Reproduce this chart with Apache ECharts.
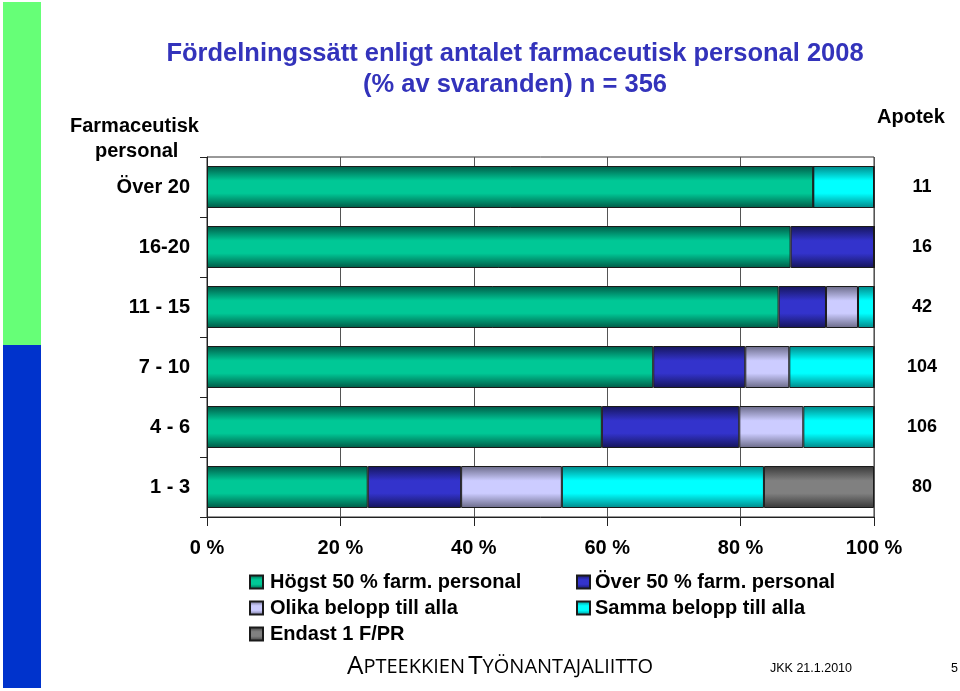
<!DOCTYPE html>
<html>
<head>
<meta charset="utf-8">
<script src="https://cdn.jsdelivr.net/npm/echarts@6/dist/echarts.min.js"></script>
<style>html,body{margin:0;padding:0;background:#fff}#c{width:960px;height:691px}</style>
</head>
<body>
<div id="c"></div>
<script>
const categories = ['Över 20', '16-20', '11 - 15', '7 - 10', '4 - 6', '1 - 3'];
const apotek = ['11', '16', '42', '104', '106', '80'];
const seriesNames = ['Högst 50 % farm. personal', 'Över 50 % farm. personal', 'Olika belopp till alla', 'Samma belopp till alla', 'Endast 1 F/PR'];
const hogst50 = [90.9, 87.5, 85.7, 66.9, 59.2, 24.1];
const over50 = [0, 12.5, 7.1, 13.8, 20.6, 14.0];
const olika = [0, 0, 4.8, 6.6, 9.6, 15.1];
const samma = [9.1, 0, 2.4, 12.7, 10.6, 30.3];
const endast = [0, 0, 0, 0, 0, 16.5];
const xTicks = ['0 %', '20 %', '40 %', '60 %', '80 %', '100 %'];

const palette = [
  ['#00c896', '#005a46'],
  ['#3333cc', '#15155a'],
  ['#ccccff', '#6a6a88'],
  ['#00ffff', '#008888'],
  ['#808080', '#383838']
];
function grad(i) {
  const [base, dark] = palette[i];
  return new echarts.graphic.LinearGradient(0, 0, 0, 1, [
    {offset: 0, color: dark}, {offset: 0.35, color: base},
    {offset: 0.65, color: base}, {offset: 1, color: dark}
  ]);
}
const values = [hogst50, over50, olika, samma, endast];
const font = 'Liberation Sans, Arial, sans-serif';

const chart = echarts.init(document.getElementById('c'));
chart.setOption({
  animation: false,
  textStyle: {fontFamily: font},
  title: {
    text: 'Fördelningssätt enligt antalet farmaceutisk personal 2008\n(% av svaranden) n = 356',
    left: 510, top: 33, textAlign: 'center',
    textStyle: {color: '#3333bb', fontSize: 25.5, fontWeight: 'bold', fontFamily: font, lineHeight: 31}
  },
  grid: {left: 207, right: 86, top: 157, bottom: 174, show: true, borderColor: '#333', borderWidth: 1, containLabel: false},
  xAxis: {
    type: 'value', min: 0, max: 100, interval: 20,
    axisLine: {show: true, lineStyle: {color: '#222'}},
    axisTick: {show: true, length: 9, lineStyle: {color: '#222'}},
    splitLine: {show: true, lineStyle: {color: '#555', width: 1}},
    axisLabel: {
      margin: 21, color: '#000', fontSize: 20, fontWeight: 'bold', fontFamily: font,
      formatter: v => xTicks[Math.round(v / 20)]
    }
  },
  yAxis: [{
    type: 'category', data: categories, inverse: true,
    axisLine: {show: true, lineStyle: {color: '#222'}},
    axisTick: {show: true, length: 7, lineStyle: {color: '#222'}},
    axisLabel: {margin: 17, color: '#000', fontSize: 20, fontWeight: 'bold', fontFamily: font}
  }, {
    type: 'category', data: apotek, inverse: true, position: 'right',
    axisLine: {show: false}, axisTick: {show: false},
    axisLabel: {margin: 48, align: 'center', color: '#000', fontSize: 18, fontWeight: 'bold', fontFamily: font, padding: [6, 0, 0, 0]}
  }],
  legend: [{
    orient: 'vertical', left: 244, top: 567, itemGap: 6,
    itemWidth: 13, itemHeight: 13, icon: 'rect',
    data: [seriesNames[0], seriesNames[2], seriesNames[4]],
    textStyle: {fontSize: 20, fontWeight: 'bold', color: '#000', fontFamily: font, padding: [0, 0, 0, 2]}
  }, {
    orient: 'vertical', left: 571, top: 567, itemGap: 6,
    itemWidth: 13, itemHeight: 13, icon: 'rect',
    data: [seriesNames[1], seriesNames[3]],
    textStyle: {fontSize: 20, fontWeight: 'bold', color: '#000', fontFamily: font, padding: [0, 0, 0, 0]}
  }],
  series: values.map((arr, i) => ({
    name: seriesNames[i], type: 'bar', stack: 'total', barWidth: '70%',
    data: arr,
    itemStyle: {color: grad(i), borderColor: '#1a1a1a', borderWidth: 1}
  })),
  graphic: [
    {type: 'rect', shape: {x: 3, y: 2, width: 38, height: 343}, style: {fill: '#66ff77'}},
    {type: 'rect', shape: {x: 3, y: 345, width: 38, height: 343}, style: {fill: '#0033cc'}},
    {type: 'text', left: 70, top: 116, style: {text: 'Farmaceutisk', font: 'bold 20px Liberation Sans, Arial', fill: '#000'}},
    {type: 'text', left: 95, top: 141, style: {text: 'personal', font: 'bold 20px Liberation Sans, Arial', fill: '#000'}},
    {type: 'text', left: 877, top: 107, style: {text: 'Apotek', font: 'bold 20px Liberation Sans, Arial', fill: '#000'}},
    {type: 'text', left: 347, top: 654, style: {
      text: '{b|A}{s|PTEEKKIEN} {b|T}{s|YÖNANTAJALIITTO}',
      rich: {
        b: {fontSize: 26, fontFamily: 'Open Sans, sans-serif', color: '#1c3c78'},
        s: {fontSize: 20, fontFamily: 'Open Sans, sans-serif', color: '#1c3c78'}
      }
    }},
    {type: 'text', left: 770, top: 662, style: {text: 'JKK 21.1.2010', font: '12.5px Liberation Sans, Arial', fill: '#000'}},
    {type: 'text', left: 951, top: 662, style: {text: '5', font: '12.5px Liberation Sans, Arial', fill: '#000'}}
  ]
});
</script>
</body>
</html>
